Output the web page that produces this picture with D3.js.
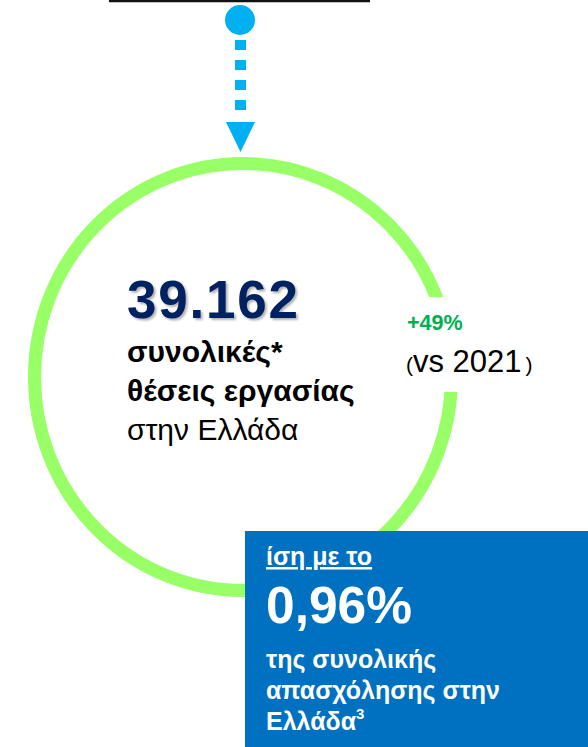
<!DOCTYPE html>
<html><head><meta charset="utf-8">
<script src="https://cdn.jsdelivr.net/npm/d3@7"></script>
<style>body{margin:0;background:#fff;}svg{display:block;}</style>
</head><body>
<script>
const headline = ["39.162"];
const mainLines = ["συνολικές*", "θέσεις εργασίας", "στην Ελλάδα"];
const growthLabel = ["+49%"];
const compareParts = ["(", "vs 2021", ")"];
const shareIntro = ["ίση με το"];
const shareValue = ["0,96%"];
const shareLines = ["της συνολικής", "απασχόλησης στην", "Ελλάδα"];
const footnote = ["3"];

const W = 588, H = 747;
const FONT = "'Liberation Sans', Arial, sans-serif";
const svg = d3.select("body").append("svg").attr("width", W).attr("height", H);

const defs = svg.append("defs");
const f = defs.append("filter").attr("id", "sh").attr("x", "-10%").attr("y", "-10%").attr("width", "130%").attr("height", "140%");
f.append("feDropShadow").attr("dx", 2).attr("dy", 2).attr("stdDeviation", 1.2).attr("flood-color", "#000").attr("flood-opacity", 0.3);

// top underline (cropped title)
svg.append("line").attr("x1", 109).attr("x2", 370).attr("y1", 1).attr("y2", 1)
  .attr("stroke", "#111").attr("stroke-width", 2.5);

// connector: dot, dashed stem, arrowhead
const cyan = "#00B0F0";
svg.append("circle").attr("cx", 240).attr("cy", 20).attr("r", 15).attr("fill", cyan);
svg.append("line").attr("x1", 240.5).attr("x2", 240.5).attr("y1", 40).attr("y2", 120)
  .attr("stroke", cyan).attr("stroke-width", 11).attr("stroke-dasharray", "10 10");
const p = d3.path(); p.moveTo(226, 122); p.lineTo(255, 122); p.lineTo(240.5, 152); p.closePath();
svg.append("path").attr("d", p.toString()).attr("fill", cyan);

// green ring
svg.append("ellipse").attr("cx", 243).attr("cy", 377).attr("rx", 208.5).attr("ry", 213.5)
  .attr("fill", "none").attr("stroke", "#99FF66").attr("stroke-width", 13);
// gap for the growth label
svg.append("rect").attr("x", 400).attr("y", 297).attr("width", 90).attr("height", 95).attr("fill", "#fff");

// headline
svg.append("text").attr("x", 127).attr("y", 318).attr("font-family", FONT).attr("font-weight", "bold")
  .attr("font-size", 53).attr("fill", "#002060").attr("filter", "url(#sh)")
  .attr("textLength", 171).attr("lengthAdjust", "spacing").text(headline[0]);

const lineY = [362, 401, 440];
svg.selectAll("text.main").data(mainLines).join("text").attr("class", "main")
  .attr("x", 127).attr("y", (d, i) => lineY[i]).attr("font-family", FONT)
  .attr("font-weight", (d, i) => i < 2 ? "bold" : "normal")
  .attr("font-size", 30).attr("fill", "#000").text(d => d);

// growth
svg.append("text").attr("x", 407).attr("y", 330).attr("font-family", FONT).attr("font-weight", "bold")
  .attr("font-size", 21.5).attr("fill", "#00B050").text(growthLabel[0]);
const cmp = svg.append("text").attr("x", 406).attr("y", 372).attr("font-family", FONT).attr("fill", "#000");
cmp.append("tspan").attr("font-size", 21).text(compareParts[0]);
cmp.append("tspan").attr("font-size", 31).text(compareParts[1]);
cmp.append("tspan").attr("font-size", 21).attr("dx", 4).text(compareParts[2]);

// blue box
svg.append("rect").attr("x", 245).attr("y", 531).attr("width", W - 245).attr("height", H - 531).attr("fill", "#0070C0");
svg.append("text").attr("x", 266).attr("y", 565).attr("font-family", FONT).attr("font-weight", "bold")
  .attr("font-size", 25).attr("fill", "#fff").attr("text-decoration", "underline").text(shareIntro[0]);
svg.append("text").attr("x", 266).attr("y", 623).attr("font-family", FONT).attr("font-weight", "bold")
  .attr("font-size", 51.5).attr("fill", "#fff").text(shareValue[0]);
const sY = [668, 699, 730];
svg.selectAll("text.share").data(shareLines).join("text").attr("class", "share")
  .attr("x", 266).attr("y", (d, i) => sY[i]).attr("font-family", FONT).attr("font-weight", "bold")
  .attr("font-size", 25).attr("fill", "#fff")
  .each(function (d, i) {
    const t = d3.select(this);
    t.append("tspan").text(d);
    if (i === shareLines.length - 1) t.append("tspan").attr("font-size", 15).attr("dy", -11).text(footnote[0]);
  });
</script>
</body></html>
